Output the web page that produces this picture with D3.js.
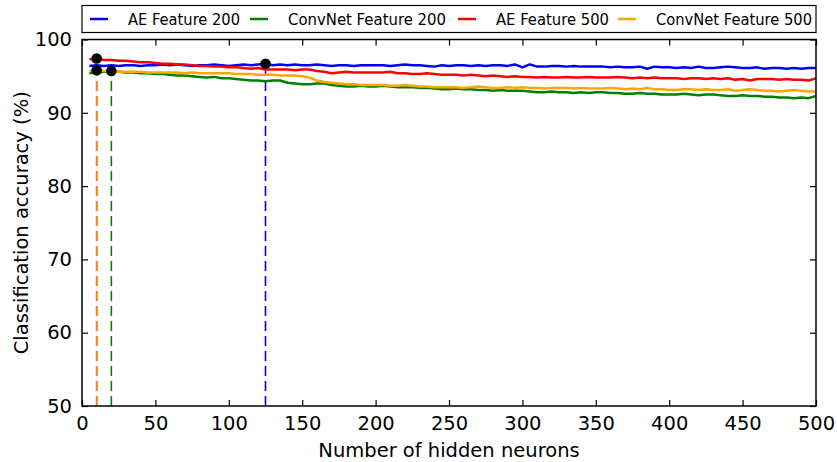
<!DOCTYPE html>
<html>
<head>
<meta charset="utf-8">
<script src="https://cdn.jsdelivr.net/npm/d3@7/dist/d3.min.js"></script>
<style>
  html, body { margin: 0; padding: 0; background: #fff; }
  svg { display: block; font-family: "DejaVu Sans", sans-serif; }
</style>
</head>
<body>
<svg id="chart" width="837" height="462"></svg>
<script>
// ---- data ----
const neurons = d3.range(5, 501, 5); // 5,10,...,500 (category positions)
const xTicks = [0, 50, 100, 150, 200, 250, 300, 350, 400, 450, 500];
const yTicks = [50, 60, 70, 80, 90, 100];
const seriesNames = ["AE Feature 200", "ConvNet Feature 200", "AE Feature 500", "ConvNet Feature 500"];
const seriesColors = ["#0000ff", "#008000", "#ff0000", "#ffa500"];

const aeFeature200 = [
  96.4, 96.5, 96.4, 96.5, 96.4, 96.5, 96.5, 96.4, 96.5, 96.5,
  96.6, 96.5, 96.6, 96.5, 96.4, 96.5, 96.5, 96.6, 96.5, 96.4,
  96.5, 96.6, 96.5, 96.6, 96.7, 96.5, 96.6, 96.5, 96.6, 96.5,
  96.5, 96.6, 96.5, 96.4, 96.5, 96.5, 96.4, 96.5, 96.5, 96.5,
  96.5, 96.4, 96.5, 96.6, 96.5, 96.5, 96.4, 96.3, 96.5, 96.4,
  96.5, 96.5, 96.4, 96.5, 96.4, 96.5, 96.5, 96.4, 96.6, 96.2,
  96.6, 96.3, 96.3, 96.4, 96.4, 96.3, 96.4, 96.3, 96.3, 96.3,
  96.3, 96.2, 96.3, 96.2, 96.2, 96.3, 96.0, 96.3, 96.2, 96.2,
  96.1, 96.2, 96.1, 96.3, 96.1, 96.1, 96.2, 96.3, 96.2, 96.1,
  96.1, 96.2, 96.0, 96.1, 96.1, 96.0, 96.1, 96.0, 96.1, 96.1
];
const convNetFeature200 = [
  95.4, 95.5, 95.6, 95.7, 95.6, 95.5, 95.5, 95.4, 95.4, 95.3,
  95.3, 95.2, 95.1, 95.1, 95.0, 94.9, 94.8, 94.9, 94.7, 94.7,
  94.6, 94.5, 94.4, 94.4, 94.3, 94.4, 94.4, 94.1, 94.0, 93.9,
  93.9, 94.0, 94.0, 93.8, 93.7, 93.6, 93.6, 93.7, 93.6, 93.6,
  93.7, 93.6, 93.5, 93.5, 93.5, 93.4, 93.4, 93.3, 93.2, 93.2,
  93.3, 93.2, 93.2, 93.1, 93.1, 93.0, 93.1, 93.0, 93.0, 93.0,
  92.9, 92.8, 92.8, 92.9, 92.8, 92.8, 92.7, 92.8, 92.7, 92.8,
  92.8, 92.7, 92.7, 92.6, 92.6, 92.7, 92.6, 92.6, 92.5, 92.5,
  92.5, 92.6, 92.5, 92.4, 92.5, 92.5, 92.4, 92.3, 92.3, 92.4,
  92.3, 92.3, 92.2, 92.2, 92.1, 92.1, 92.0, 92.1, 92.0, 92.3
];
const aeFeature500 = [
  97.3, 97.4, 97.2, 97.2, 97.1, 97.1, 97.0, 96.9, 96.9, 96.8,
  96.7, 96.7, 96.6, 96.6, 96.5, 96.4, 96.4, 96.3, 96.3, 96.2,
  96.2, 96.1, 96.0, 96.1, 95.9, 95.9, 95.9, 95.9, 95.8, 95.9,
  95.9, 95.7, 95.6, 95.4, 95.5, 95.6, 95.5, 95.5, 95.5, 95.5,
  95.5, 95.6, 95.4, 95.4, 95.3, 95.3, 95.4, 95.3, 95.2, 95.2,
  95.2, 95.1, 95.2, 95.1, 95.0, 95.1, 95.0, 94.9, 95.0, 94.9,
  94.9, 94.8, 94.9, 94.8, 94.8, 94.9, 94.8, 94.8, 94.9, 94.8,
  94.8, 94.8, 94.9, 94.8, 94.7, 94.8, 94.7, 94.8, 94.7, 94.7,
  94.7, 94.6, 94.7, 94.7, 94.6, 94.7, 94.6, 94.7, 94.5, 94.6,
  94.4, 94.6, 94.6, 94.6, 94.5, 94.6, 94.5, 94.5, 94.4, 94.7
];
const convNetFeature500 = [
  95.7, 95.8, 95.7, 95.7, 95.6, 95.6, 95.6, 95.6, 95.5, 95.5,
  95.5, 95.5, 95.5, 95.4, 95.5, 95.4, 95.4, 95.4, 95.4, 95.4,
  95.3, 95.3, 95.3, 95.2, 95.2, 95.2, 95.1, 95.1, 95.1, 95.0,
  94.8, 94.4, 94.2, 94.1, 94.0, 93.9, 93.9, 93.8, 93.8, 93.8,
  93.8, 93.7, 93.7, 93.8, 93.7, 93.6, 93.6, 93.5, 93.5, 93.5,
  93.5, 93.4, 93.5, 93.6, 93.5, 93.4, 93.4, 93.5, 93.4, 93.5,
  93.4, 93.4, 93.3, 93.4, 93.4, 93.4, 93.3, 93.4, 93.3, 93.3,
  93.3, 93.4, 93.3, 93.2, 93.3, 93.2, 93.4, 93.2, 93.2, 93.1,
  93.1, 93.2, 93.2, 93.1, 93.2, 93.1, 93.1, 93.2, 93.0, 93.1,
  93.2, 93.1, 93.0, 93.0, 92.9, 93.0, 93.1, 93.0, 92.9, 92.9
];
const seriesValues = [aeFeature200, convNetFeature200, aeFeature500, convNetFeature500];

// ---- layout ----
const svg = d3.select("#chart");
const margin = { left: 82, right: 21, top: 39.5, bottom: 56 };
const W = 837, H = 462;
const x = d3.scaleLinear().domain([0, 500]).range([margin.left, W - margin.right]);
const y = d3.scaleLinear().domain([50, 100]).range([H - margin.bottom, margin.top]);

svg.append("rect").attr("width", W).attr("height", H).attr("fill", "#fff");

const series = seriesNames.map((name, i) => ({
  name, color: seriesColors[i],
  points: neurons.map((n, j) => ({ n, v: seriesValues[i][j] }))
}));

// dashed lines at maxima
const maxima = series.map(s => {
  const idx = d3.maxIndex(s.points, p => p.v);
  return { color: s.color, n: s.points[idx].n, v: s.points[idx].v };
});
const dashOrder = [2, 0, 1, 3];
dashOrder.forEach(i => {
  const m = maxima[i];
  svg.append("line")
    .attr("x1", x(m.n)).attr("x2", x(m.n))
    .attr("y1", y(50)).attr("y2", y(m.v))
    .attr("stroke", m.color).attr("stroke-width", 1.6)
    .attr("stroke-opacity", i === 3 ? 0.8 : 1)
    .attr("stroke-dasharray", "10,5");
});

// lines
const line = d3.line().x(p => x(p.n)).y(p => y(p.v));
series.forEach(s => {
  svg.append("path").attr("d", line(s.points))
    .attr("fill", "none").attr("stroke", s.color)
    .attr("stroke-width", 2.5).attr("stroke-linejoin", "round");
});

// dots at maxima
maxima.forEach(m => {
  svg.append("circle").attr("cx", x(m.n)).attr("cy", y(m.v)).attr("r", 5.3).attr("fill", "#000");
});

// axes frame
svg.append("rect")
  .attr("x", x(0)).attr("y", y(100))
  .attr("width", x(500) - x(0)).attr("height", y(50) - y(100))
  .attr("fill", "none").attr("stroke", "#000").attr("stroke-width", 1.5);

const tickLen = 6;
const fs = 19.5;
const axB = svg.append("g").attr("transform", `translate(0,${y(50)})`)
  .call(d3.axisBottom(x).tickValues(xTicks).tickSize(-tickLen).tickPadding(tickLen + 4).tickFormat(d3.format("d")));
const axT = svg.append("g").attr("transform", `translate(0,${y(100)})`)
  .call(d3.axisTop(x).tickValues(xTicks).tickSize(-tickLen).tickFormat(""));
const axL = svg.append("g").attr("transform", `translate(${x(0)},0)`)
  .call(d3.axisLeft(y).tickValues(yTicks).tickSize(-tickLen).tickPadding(tickLen + 4).tickFormat(d3.format("d")));
const axR = svg.append("g").attr("transform", `translate(${x(500)},0)`)
  .call(d3.axisRight(y).tickValues(yTicks).tickSize(-tickLen).tickFormat(""));
[axB, axT, axL, axR].forEach(g => {
  g.select(".domain").remove();
  g.selectAll(".tick line").attr("stroke", "#000").attr("stroke-width", 1.2);
  g.selectAll(".tick text").attr("fill", "#000").attr("font-size", fs).attr("font-family", "DejaVu Sans");
});

// axis titles
svg.append("text").attr("x", (x(0) + x(500)) / 2).attr("y", 457)
  .attr("text-anchor", "middle").attr("font-size", 19.5).text("Number of hidden neurons");
svg.append("text")
  .attr("transform", `translate(28,${(y(50) + y(100)) / 2}) rotate(-90)`)
  .attr("text-anchor", "middle").attr("font-size", 19.5).text("Classification accuracy (%)");

// legend
const lg = svg.append("g");
lg.append("rect").attr("x", x(0)).attr("y", 5.5).attr("width", x(500) - x(0)).attr("height", 27)
  .attr("fill", "#fff").attr("stroke", "#000").attr("stroke-width", 1.2);
const itemX = [90, 250, 458, 618];
const textLen = [112, 158, 113, 156];
series.forEach((s, i) => {
  lg.append("line").attr("x1", itemX[i]).attr("x2", itemX[i] + 18)
    .attr("y1", 19).attr("y2", 19).attr("stroke", s.color).attr("stroke-width", 2.5);
  lg.append("text").attr("x", itemX[i] + 38).attr("y", 19).attr("dy", "0.35em")
    .attr("font-size", 16).attr("textLength", textLen[i]).attr("lengthAdjust", "spacingAndGlyphs")
    .text(s.name);
});
</script>
</body>
</html>
